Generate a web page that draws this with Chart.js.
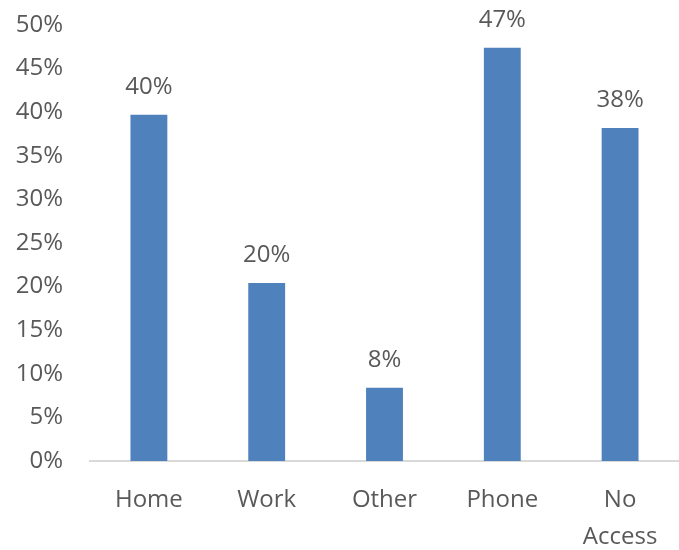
<!DOCTYPE html>
<html>
<head>
<meta charset="utf-8">
<script src="https://cdn.jsdelivr.net/npm/chart.js@4/dist/chart.umd.min.js"></script>
<style>
  html, body { margin: 0; padding: 0; background: #ffffff; }
  #wrap { width: 679px; height: 550px; position: relative; }
</style>
</head>
<body>
<div id="wrap"><canvas id="c" width="679" height="550"></canvas></div>
<script>
const categories = ["Home", "Work", "Other", "Phone", ["No", "Access"]];
const values = [39.7, 20.4, 8.4, 47.4, 38.2];
const yMin = 0, yMax = 50, yStep = 5;

const textColor = '#595959';
const fontFamily = '"Open Sans", "Liberation Sans", sans-serif';

const valueLabels = {
  id: 'valueLabels',
  afterDatasetsDraw(chart) {
    const ctx = chart.ctx;
    const meta = chart.getDatasetMeta(0);
    ctx.save();
    ctx.font = '24px ' + fontFamily;
    ctx.fillStyle = textColor;
    ctx.textAlign = 'center';
    ctx.textBaseline = 'middle';
    meta.data.forEach((bar, i) => {
      ctx.fillText(Math.round(values[i]) + '%', bar.x, bar.y - 28);
    });
    ctx.restore();
  }
};

new Chart(document.getElementById('c'), {
  type: 'bar',
  data: {
    labels: categories,
    datasets: [{
      data: values,
      backgroundColor: '#4F81BD',
      borderWidth: 0,
      categoryPercentage: 1.0,
      barPercentage: 0.313
    }]
  },
  options: {
    responsive: false,
    animation: false,
    devicePixelRatio: 1,
    layout: { padding: { left: 15, right: 0, top: 25, bottom: 0 } },
    plugins: { legend: { display: false }, tooltip: { enabled: false } },
    scales: {
      x: {
        grid: { display: false, drawTicks: false },
        border: { display: true, color: '#d9d9d9', width: 2 },
        afterFit: s => { s.height = 89; s.paddingLeft = 0; s.paddingRight = 0; },
        ticks: {
          color: textColor,
          font: { family: fontFamily, size: 24, lineHeight: 1.54 },
          padding: 21,
          maxRotation: 0,
          autoSkip: false
        }
      },
      y: {
        min: yMin, max: yMax,
        grid: { display: false, drawTicks: false },
        border: { display: false },
        afterFit: s => { s.width = 75; s.paddingTop = 0; s.paddingBottom = 0; },
        ticks: {
          stepSize: yStep,
          color: textColor,
          font: { family: fontFamily, size: 24 },
          padding: 27,
          callback: v => v + '%'
        }
      }
    }
  },
  plugins: [valueLabels]
});
</script>
</body>
</html>
